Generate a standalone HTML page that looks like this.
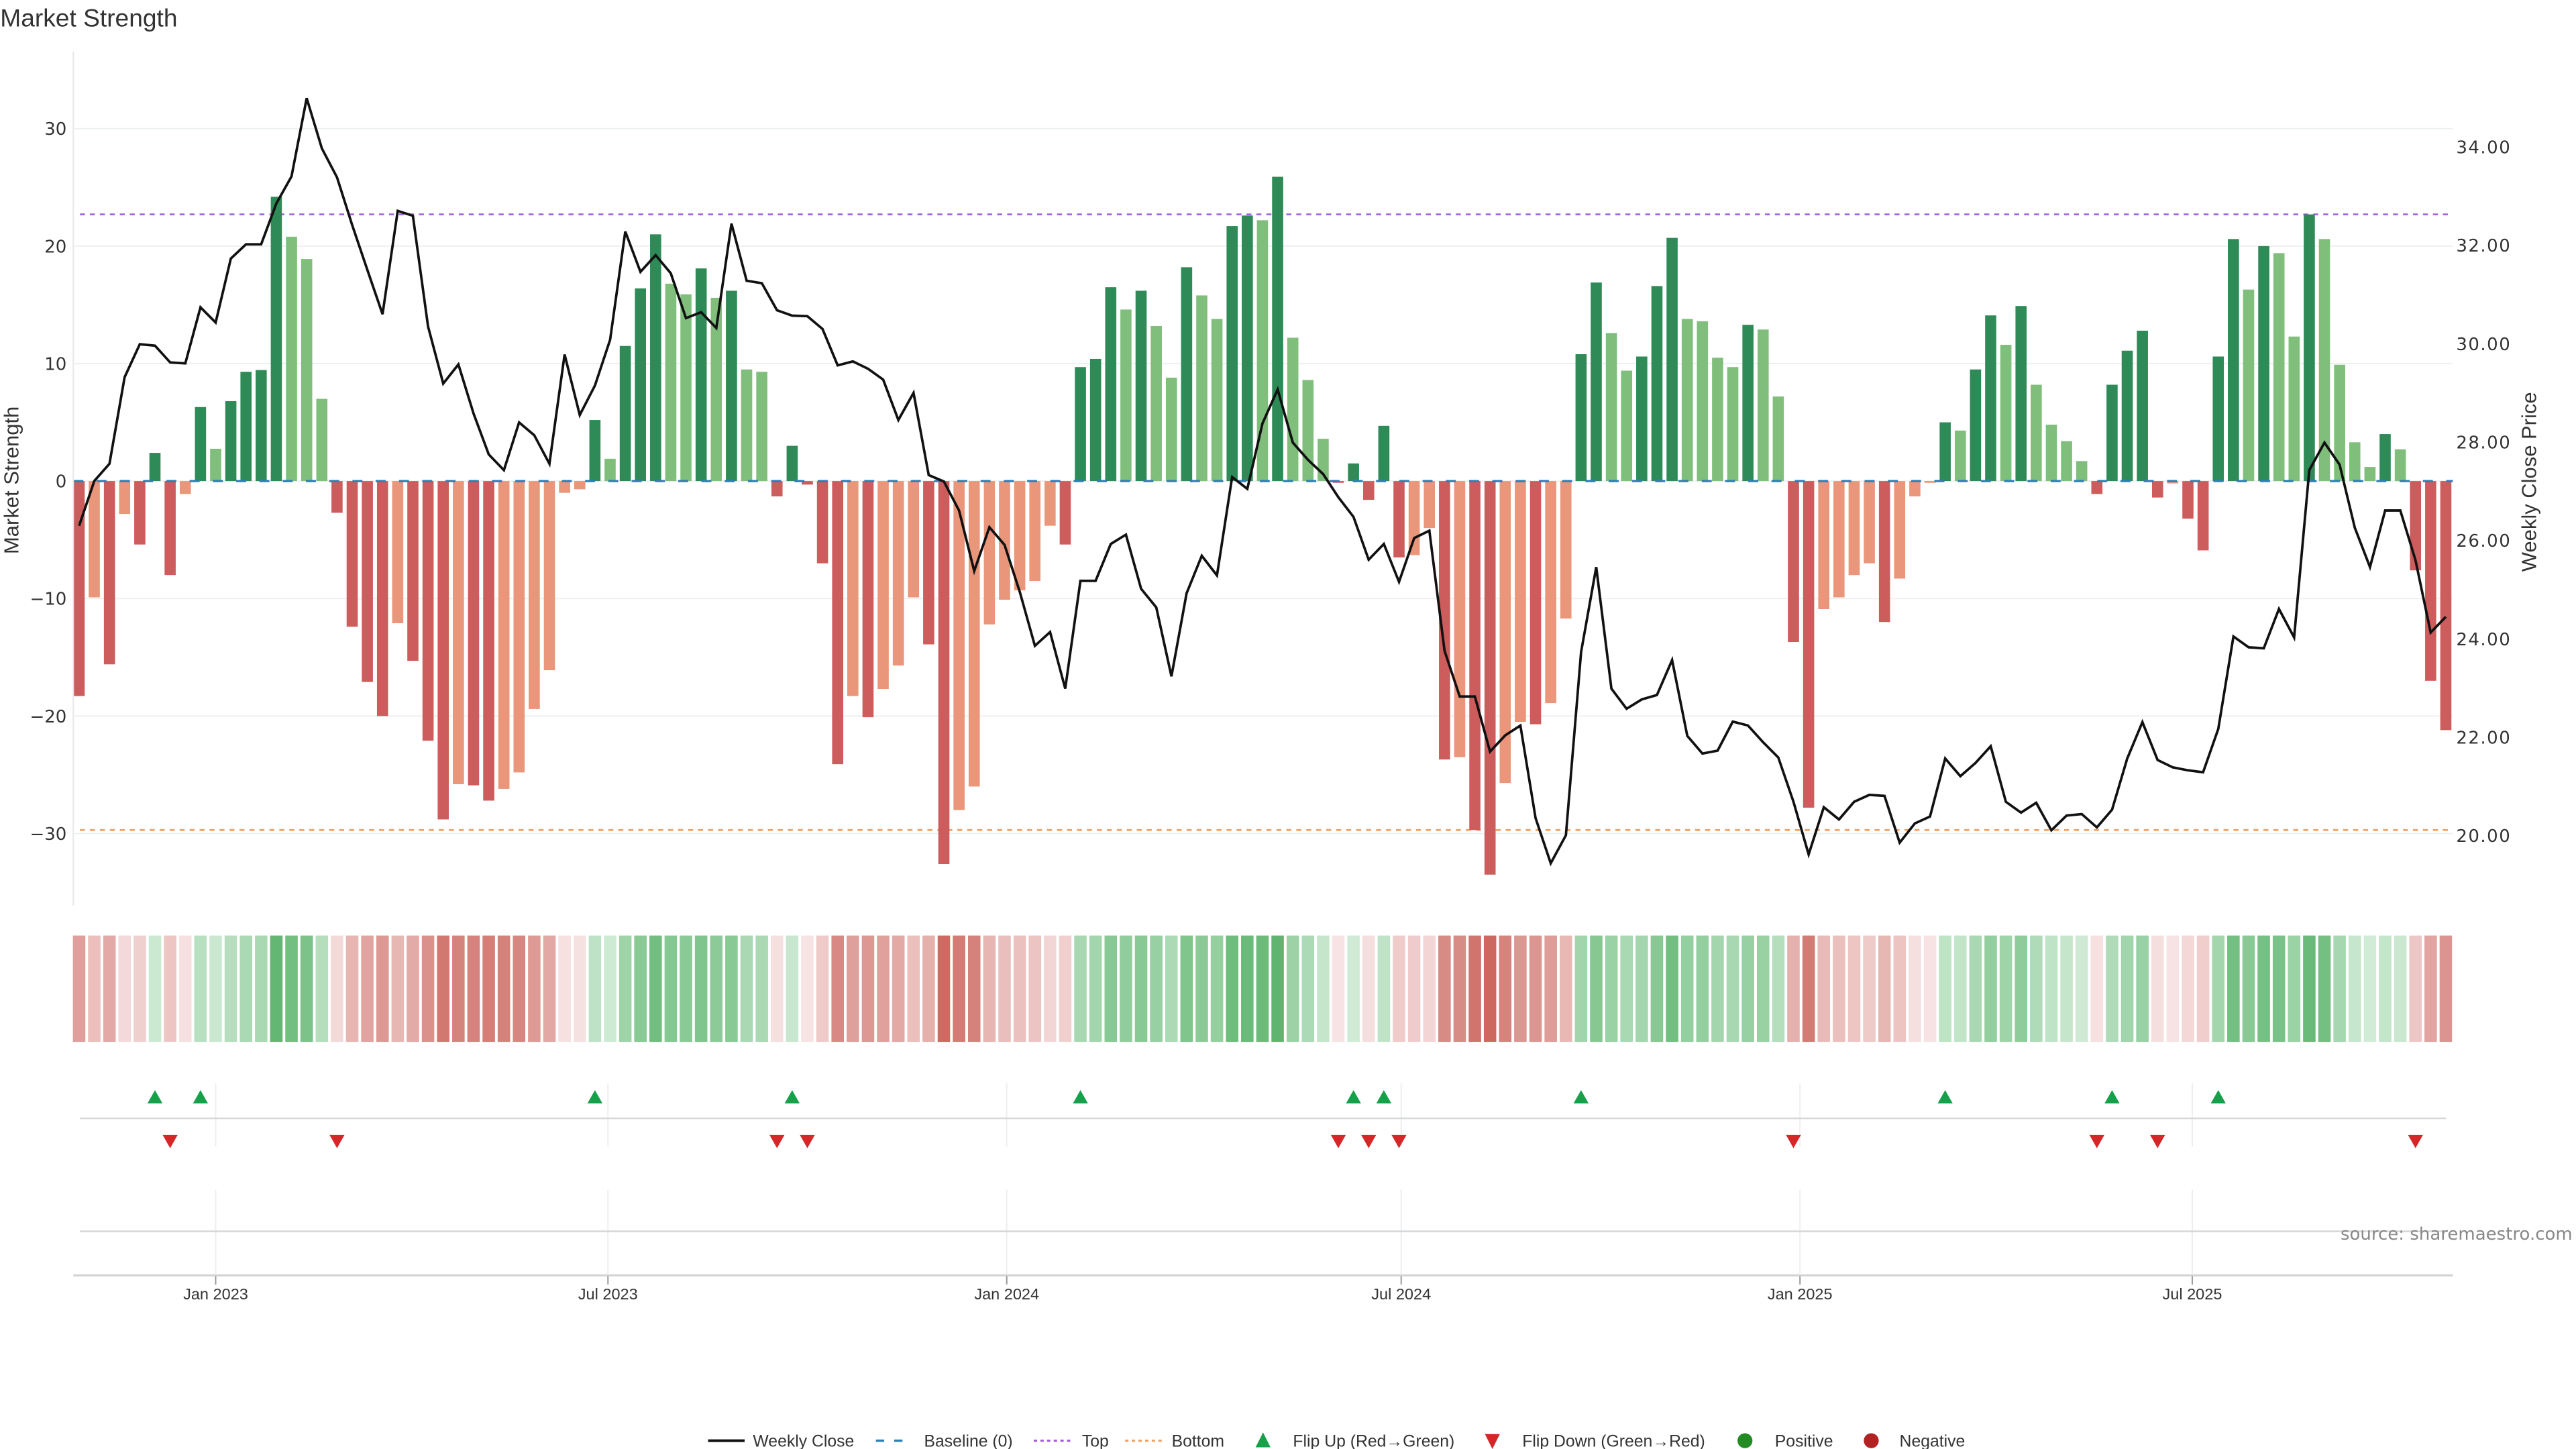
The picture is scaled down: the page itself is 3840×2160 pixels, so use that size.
<!DOCTYPE html>
<html><head><meta charset="utf-8"><title>Market Strength</title>
<style>
html,body{margin:0;padding:0;background:#fff;}
svg{display:block;}
text{font-family:"DejaVu Sans","Liberation Sans",sans-serif;}
.cond{font-family:"Liberation Sans Narrow","Liberation Sans",sans-serif;}
</style></head>
<body>
<svg id="chart" width="3840" height="2160" viewBox="0 0 1550 872" xmlns="http://www.w3.org/2000/svg">
<text class="cond" x="0" y="16" font-size="15" fill="#333">Market Strength</text>
<g id="grid"></g><g id="refs"></g><g id="bars"></g><g id="line"></g><g id="axes"></g>
<g id="strip"></g><g id="flips"></g><g id="xaxis"></g>
<text class="cond" transform="translate(11,289) rotate(-90)" text-anchor="middle" font-size="12.5" fill="#333">Market Strength</text>
<text class="cond" transform="translate(1526,290) rotate(-90)" text-anchor="middle" font-size="12.5" fill="#333">Weekly Close Price</text>
<text x="1548" y="746" text-anchor="end" font-size="10.5" fill="#888">source: sharemaestro.com</text>
<g id="legend"></g>
</svg>
<script>
const strength = [-18.3,-9.9,-15.6,-2.8,-5.4,2.4,-8.0,-1.1,6.3,2.75,6.8,9.3,9.45,24.2,20.8,18.9,7.0,-2.7,-12.4,-17.1,-20.0,-12.1,-15.3,-22.1,-28.8,-25.8,-25.9,-27.2,-26.2,-24.8,-19.4,-16.1,-1.0,-0.7,5.2,1.9,11.5,16.4,21.0,16.8,15.9,18.1,15.6,16.2,9.5,9.3,-1.3,3.0,-0.3,-7.0,-24.1,-18.3,-20.1,-17.7,-15.7,-9.9,-13.9,-32.6,-28.0,-26.0,-12.2,-10.1,-9.3,-8.5,-3.8,-5.4,9.7,10.4,16.5,14.6,16.2,13.2,8.8,18.2,15.8,13.8,21.7,22.6,22.2,25.9,12.2,8.6,3.6,-0.15,1.5,-1.6,4.7,-6.5,-6.3,-4.0,-23.7,-23.5,-29.7,-33.5,-25.7,-20.5,-20.7,-18.9,-11.7,10.8,16.9,12.6,9.4,10.6,16.6,20.7,13.8,13.6,10.5,9.7,13.3,12.9,7.2,-13.7,-27.8,-10.9,-9.9,-8.0,-7.0,-12.0,-8.3,-1.3,-0.15,5.0,4.3,9.5,14.1,11.6,14.9,8.2,4.8,3.4,1.7,-1.1,8.2,11.1,12.8,-1.4,-0.2,-3.2,-5.9,10.6,20.6,16.3,20.0,19.4,12.3,22.7,20.6,9.9,3.3,1.2,4.0,2.7,-7.6,-17.0,-21.2];
const closes = [26.30,27.21,27.56,29.32,29.99,29.96,29.62,29.60,30.74,30.43,31.73,32.02,32.02,32.85,33.40,34.99,33.97,33.38,32.41,31.50,30.60,32.70,32.60,30.35,29.19,29.58,28.58,27.75,27.43,28.40,28.14,27.56,29.78,28.55,29.15,30.08,32.28,31.46,31.80,31.43,30.52,30.64,30.32,32.44,31.28,31.23,30.68,30.57,30.56,30.30,29.56,29.64,29.49,29.27,28.45,29.00,27.33,27.20,26.61,25.38,26.27,25.91,24.96,23.86,24.14,22.99,25.18,25.18,25.93,26.12,25.02,24.64,23.24,24.93,25.69,25.29,27.29,27.05,28.38,29.07,27.99,27.64,27.35,26.88,26.48,25.61,25.93,25.16,26.05,26.20,23.76,22.83,22.83,21.71,22.04,22.24,20.36,19.44,20.01,23.73,25.46,22.99,22.58,22.77,22.86,23.57,22.03,21.67,21.73,22.32,22.24,21.90,21.59,20.69,19.62,20.58,20.33,20.69,20.83,20.81,19.86,20.25,20.39,21.57,21.21,21.48,21.82,20.69,20.47,20.67,20.11,20.41,20.44,20.17,20.53,21.57,22.31,21.54,21.39,21.33,21.29,22.17,24.05,23.83,23.81,24.61,24.03,27.43,27.99,27.54,26.26,25.46,26.61,26.61,25.60,24.13,24.45];
const firstWeek = "2022-10-30";
const leftTicks = [-30,-20,-10,0,10,20,30];
const rightTicks = [20,22,24,26,28,30,32,34];
const dateTicks = ["2023-01-01","2023-07-01","2024-01-01","2024-07-01","2025-01-01","2025-07-01"];
const dateLabels = ["Jan 2023","Jul 2023","Jan 2024","Jul 2024","Jan 2025","Jul 2025"];
const topLevel = 22.7;
const bottomLevel = -29.7;

const NS="http://www.w3.org/2000/svg";
function mk(parent,tag,attrs){const e=document.createElementNS(NS,tag);for(const k in attrs)e.setAttribute(k,attrs[k]);document.getElementById(parent).appendChild(e);return e;}
const X0=44,X1=1476,PX0=47.5,WEEK=9.13;
const t0=Date.parse(firstWeek);
function xDate(s){return PX0+(Date.parse(s)-t0)/864e5/7*WEEK;}
function xi(i){return PX0+i*WEEK;}
function yL(v){return 289.5-v*7.07;}
function yR(p){return 88.4+(34-p)*29.61;}

// grid + left ticks
leftTicks.forEach(v=>{
  const g=mk('grid','line',{x1:X0,x2:X1,y1:yL(v),y2:yL(v),stroke:'#edf0f2','stroke-width':0.8});
  
  
  const t=mk('axes','text',{x:40,y:yL(v)+3.8,'text-anchor':'end','font-size':10.5,fill:'#333'});
  t.textContent=(v<0?'\u2212':'')+Math.abs(v);
  
  
});
rightTicks.forEach(p=>{
  const t=mk('axes','text',{x:1478,y:yR(p)+3.8,'font-size':10.5,fill:'#333','letter-spacing':'0.6'});
  t.textContent=p.toFixed(2);
  
  
});
const la=mk('axes','line',{x1:X0,x2:X0,y1:31,y2:545,stroke:'#e6e8ea','stroke-width':0.8});



// ref lines
const tl=mk('refs','line',{x1:48,x2:X1,y1:yL(topLevel),y2:yL(topLevel),stroke:'#a35fdc','stroke-width':1.1,'stroke-dasharray':'3,3'});


const bl=mk('refs','line',{x1:48,x2:X1,y1:yL(bottomLevel),y2:yL(bottomLevel),stroke:'#f0a060','stroke-width':1.1,'stroke-dasharray':'3,3'});



// bars
strength.forEach((v,i)=>{
  const prev=i>0?strength[i-1]:0;
  const flip=i===0||Math.sign(prev)!==Math.sign(v);
  const dark=flip||Math.abs(v)>=Math.abs(prev);
  const col=v>=0?(dark?'#2e8b57':'#7fbf7b'):(dark?'#cd5c5c':'#e9967a');
  const y=Math.min(yL(0),yL(v)),h=Math.abs(yL(v)-yL(0));
  const r=mk('bars','rect',{x:xi(i)-3.35,y:y,width:6.7,height:Math.max(h,0.6),fill:col});
  
  
});
const base=mk('bars','line',{x1:X0,x2:X1,y1:yL(0),y2:yL(0),stroke:'#2f7fb5','stroke-width':1.3,'stroke-dasharray':'6,8'});



// price line
const pts=closes.map((p,i)=>xi(i).toFixed(2)+','+yR(p).toFixed(2)).join(' ');
const pl=mk('line','polyline',{points:pts,fill:'none',stroke:'#111','stroke-width':1.5,'stroke-linejoin':'miter'});



// heat strip
function mix(a,b,t){return 'rgb('+a.map((c,k)=>Math.round(c+(b[k]-c)*t)).join(',')+')';}
strength.forEach((v,i)=>{
  let col;
  if(v>=0){col=mix([214,238,219],[95,181,111],Math.min(v/25,1));}
  else{col=mix([247,228,228],[204,104,96],Math.min(-v/33,1));}
  const r=mk('strip','rect',{x:xi(i)-3.75,y:563,width:7.5,height:64,fill:col});
  
  
});

// flip panel
dateTicks.forEach(d=>{
  const x=xDate(d);
  const g1=mk('flips','line',{x1:x,x2:x,y1:652,y2:690,stroke:'#eceef0','stroke-width':0.8});
  
  
  const g2=mk('flips','line',{x1:x,x2:x,y1:716,y2:767,stroke:'#eceef0','stroke-width':0.8});
  
  
});
const sep=mk('flips','line',{x1:48,x2:1472,y1:673,y2:673,stroke:'#d4d6d8','stroke-width':1});


const sep2=mk('flips','line',{x1:48,x2:1472,y1:741,y2:741,stroke:'#d4d6d8','stroke-width':1});


strength.forEach((v,i)=>{
  if(i===0)return;
  const p=strength[i-1],x=xi(i);
  if(p<0&&v>=0){
    const t=mk('flips','polygon',{points:`${x-4.5},${664} ${x+4.5},${664} ${x},${656}`,fill:'#16a04a'});
    
    
  } else if(p>=0&&v<0){
    const t=mk('flips','polygon',{points:`${x-4.5},${683} ${x+4.5},${683} ${x},${691}`,fill:'#d62728'});
    
    
  }
});

// x axis
const xa=mk('xaxis','line',{x1:X0,x2:X1,y1:767.5,y2:767.5,stroke:'#d0d2d4','stroke-width':1.2});


dateTicks.forEach((d,k)=>{
  const x=xDate(d);
  const tk=mk('xaxis','line',{x1:x,x2:x,y1:768,y2:773,stroke:'#999','stroke-width':0.8});
  
  
  const t=mk('xaxis','text',{x:x,y:782,'text-anchor':'middle','font-size':9.5,fill:'#333',class:'cond'});
  t.textContent=dateLabels[k];
  
  
});

// legend
const LY=867;
function ltext(x,s){const t=mk('legend','text',{x:x,y:LY+3.6,'font-size':10,fill:'#333',class:'cond'});t.textContent=s;

return t;}
let e;
e=mk('legend','line',{x1:426,x2:448,y1:LY,y2:LY,stroke:'#111','stroke-width':1.6});


ltext(453,'Weekly Close');
e=mk('legend','line',{x1:527,x2:549,y1:LY,y2:LY,stroke:'#2f7fb5','stroke-width':1.4,'stroke-dasharray':'5,6'});


ltext(556,'Baseline (0)');
e=mk('legend','line',{x1:622,x2:644,y1:LY,y2:LY,stroke:'#a35fdc','stroke-width':1.3,'stroke-dasharray':'2,2'});


ltext(651,'Top');
e=mk('legend','line',{x1:677,x2:699,y1:LY,y2:LY,stroke:'#f0a060','stroke-width':1.3,'stroke-dasharray':'2,2'});


ltext(705,'Bottom');
e=mk('legend','polygon',{points:'755.5,871 764.5,871 760,862',fill:'#16a04a'});


ltext(778,'Flip Up (Red\u2192Green)');
e=mk('legend','polygon',{points:'893.5,863 902.5,863 898,872',fill:'#d62728'});


ltext(916,'Flip Down (Green\u2192Red)');
e=mk('legend','circle',{cx:1050,cy:LY,r:4.5,fill:'#228b22'});


ltext(1068,'Positive');
e=mk('legend','circle',{cx:1126,cy:LY,r:4.5,fill:'#b22222'});


ltext(1143,'Negative');
</script>
</body></html>
